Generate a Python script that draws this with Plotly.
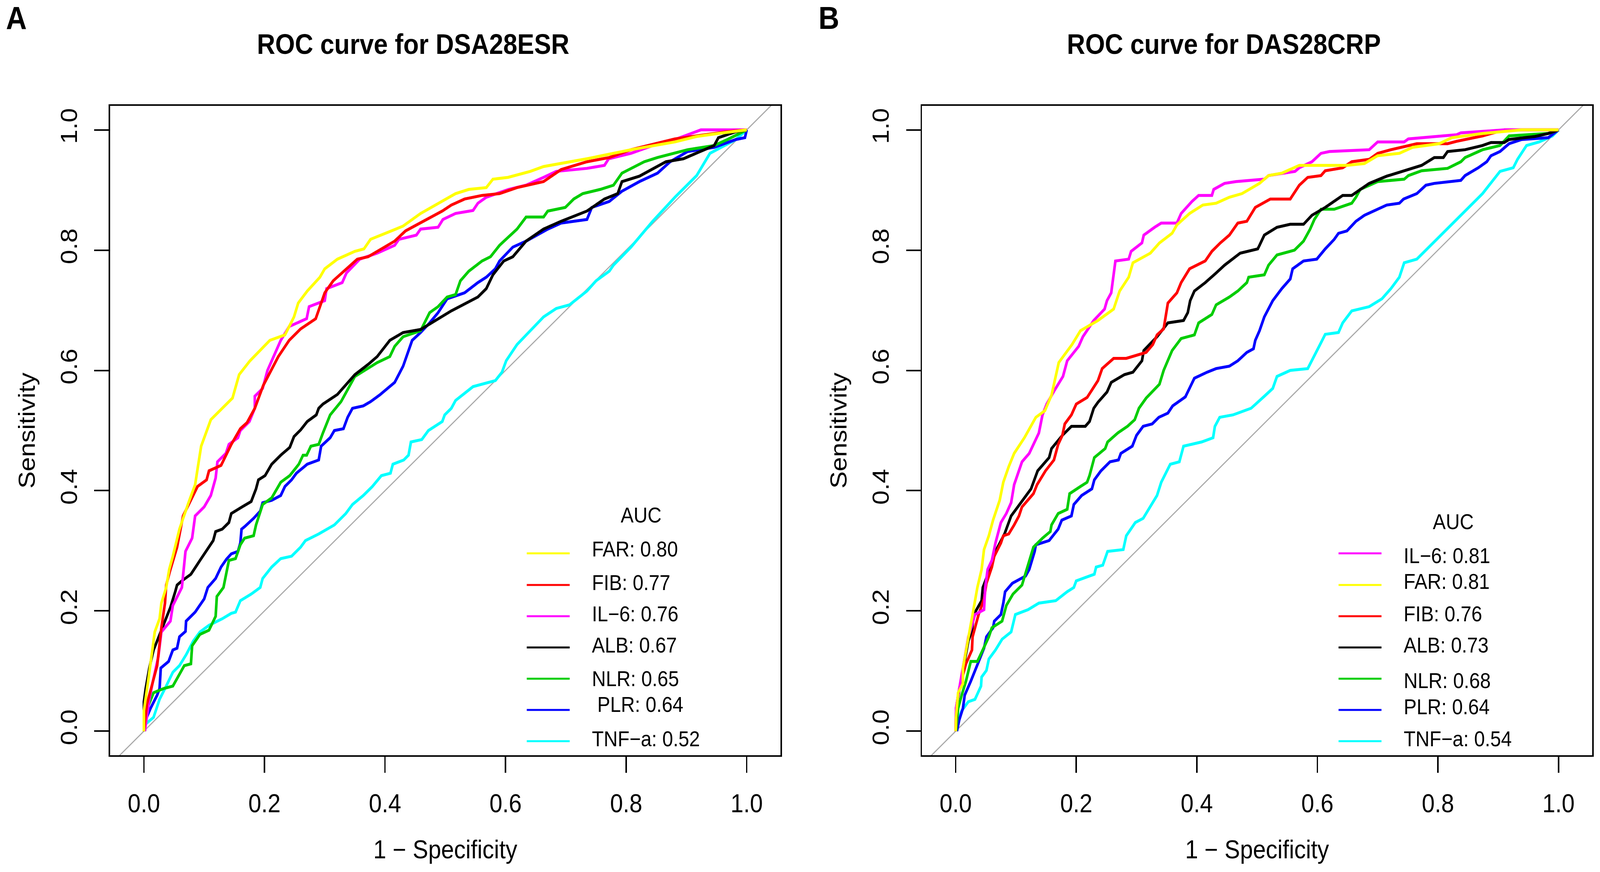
import plotly.graph_objects as go

W, H = 4547, 2233

# ---------------- data ----------------
tick_vals = [0.0, 0.2, 0.4, 0.6, 0.8, 1.0]
tick_text = ["0.0", "0.2", "0.4", "0.6", "0.8", "1.0"]
chance_line = [-0.2, 1.2]

A_title = "ROC curve for DSA28ESR"
B_title = "ROC curve for DAS28CRP"

A_markers = ["FAR", "FIB", "IL−6", "ALB", "NLR", "PLR", "TNF−a"]
A_auc = [0.80, 0.77, 0.76, 0.67, 0.65, 0.64, 0.52]
A_legend_text = ["FAR: 0.80", "FIB: 0.77", "IL−6: 0.76", "ALB: 0.67", "NLR: 0.65", " PLR: 0.64", "TNF−a: 0.52"]
B_markers = ["IL−6", "FAR", "FIB", "ALB", "NLR", "PLR", "TNF−a"]
B_auc = [0.81, 0.81, 0.76, 0.73, 0.68, 0.64, 0.54]
B_legend_text = ["IL−6: 0.81", "FAR: 0.81", "FIB: 0.76", "ALB: 0.73", "NLR: 0.68", "PLR: 0.64", "TNF−a: 0.54"]

# ---- Panel A (DAS28-ESR) ROC curves: 1-specificity / sensitivity ----
A_FAR_fpr = [0, 0, 0.007, 0.018, 0.026, 0.029, 0.037, 0.042, 0.048, 0.059, 0.074, 0.085, 0.089, 0.095, 0.111,
             0.147, 0.158, 0.176, 0.209, 0.234, 0.249, 0.256, 0.271, 0.292, 0.300, 0.321, 0.350, 0.365, 0.376,
             0.401, 0.430, 0.459, 0.488, 0.517, 0.539, 0.568, 0.579, 0.604, 0.641, 0.663, 0.735, 0.808, 0.881,
             0.917, 0.953, 1.0]
A_FAR_tpr = [0, 0.034, 0.083, 0.165, 0.187, 0.213, 0.239, 0.269, 0.291, 0.336, 0.380, 0.410, 0.436, 0.474, 0.518,
             0.554, 0.593, 0.616, 0.650, 0.659, 0.689, 0.712, 0.732, 0.755, 0.769, 0.785, 0.798, 0.802, 0.818,
             0.828, 0.840, 0.861, 0.878, 0.894, 0.901, 0.904, 0.918, 0.921, 0.931, 0.939, 0.952, 0.967, 0.980,
             0.989, 0.994, 1.0]

A_FIB_fpr = [0, 0.005, 0.022, 0.029, 0.035, 0.037, 0.044, 0.055, 0.065, 0.076, 0.089, 0.104, 0.108, 0.128, 0.145,
             0.160, 0.171, 0.184, 0.198, 0.223, 0.241, 0.260, 0.285, 0.292, 0.300, 0.314, 0.329, 0.354, 0.372,
             0.394, 0.416, 0.434, 0.459, 0.495, 0.510, 0.532, 0.561, 0.590, 0.619, 0.663, 0.692, 0.735, 0.772,
             0.808, 0.844, 0.881, 0.917, 0.968, 1.0]
A_FIB_tpr = [0, 0.045, 0.109, 0.172, 0.213, 0.243, 0.269, 0.306, 0.358, 0.380, 0.407, 0.418, 0.433, 0.442, 0.477,
             0.503, 0.513, 0.537, 0.575, 0.623, 0.650, 0.669, 0.686, 0.706, 0.729, 0.749, 0.762, 0.785, 0.789,
             0.802, 0.815, 0.832, 0.845, 0.865, 0.875, 0.885, 0.891, 0.894, 0.904, 0.914, 0.934, 0.947, 0.954,
             0.967, 0.976, 0.985, 0.990, 0.997, 1.0]

A_IL6_fpr = [0.0015, 0.009, 0.015, 0.024, 0.029, 0.044, 0.048, 0.063, 0.069, 0.080, 0.085, 0.100, 0.111, 0.119,
             0.122, 0.136, 0.141, 0.156, 0.160, 0.175, 0.184, 0.184, 0.197, 0.205, 0.227, 0.241, 0.270, 0.274,
             0.300, 0.303, 0.329, 0.336, 0.358, 0.387, 0.416, 0.423, 0.452, 0.459, 0.488, 0.496, 0.517, 0.546,
             0.554, 0.568, 0.605, 0.634, 0.663, 0.684, 0.735, 0.764, 0.771, 0.808, 0.844, 0.881, 0.924, 1.0]
A_IL6_tpr = [0, 0.053, 0.083, 0.124, 0.165, 0.183, 0.209, 0.239, 0.299, 0.321, 0.358, 0.373, 0.392, 0.421,
             0.448, 0.462, 0.477, 0.488, 0.500, 0.515, 0.537, 0.557, 0.570, 0.600, 0.650, 0.673, 0.686, 0.706,
             0.716, 0.736, 0.746, 0.762, 0.785, 0.795, 0.808, 0.818, 0.825, 0.835, 0.838, 0.851, 0.861, 0.866,
             0.878, 0.888, 0.901, 0.908, 0.921, 0.931, 0.936, 0.941, 0.952, 0.961, 0.974, 0.984, 1.0, 1.0]

A_ALB_fpr = [0, 0, 0.003, 0.009, 0.016, 0.031, 0.044, 0.052, 0.055, 0.063, 0.078, 0.093, 0.108, 0.115, 0.119,
             0.130, 0.141, 0.145, 0.163, 0.178, 0.186, 0.190, 0.201, 0.212, 0.227, 0.242, 0.249, 0.260, 0.271,
             0.286, 0.290, 0.297, 0.321, 0.332, 0.350, 0.372, 0.387, 0.408, 0.430, 0.459, 0.488, 0.510, 0.554,
             0.568, 0.579, 0.597, 0.612, 0.634, 0.663, 0.692, 0.735, 0.764, 0.786, 0.793, 0.822, 0.866, 0.895,
             0.924, 0.946, 0.953, 0.982, 1.0]
A_ALB_tpr = [0, 0.049, 0.071, 0.105, 0.135, 0.172, 0.206, 0.232, 0.243, 0.250, 0.261, 0.284, 0.306, 0.317, 0.332,
             0.336, 0.347, 0.362, 0.373, 0.382, 0.403, 0.418, 0.425, 0.444, 0.459, 0.472, 0.490, 0.501, 0.515,
             0.526, 0.537, 0.544, 0.560, 0.573, 0.593, 0.610, 0.623, 0.650, 0.663, 0.668, 0.686, 0.699, 0.722,
             0.736, 0.759, 0.782, 0.789, 0.815, 0.835, 0.848, 0.865, 0.885, 0.894, 0.914, 0.923, 0.947, 0.952,
             0.964, 0.974, 0.987, 0.997, 1.0]

A_NLR_fpr = [0.0015, 0.003, 0.016, 0.033, 0.048, 0.059, 0.067, 0.078, 0.080, 0.093, 0.108, 0.119, 0.121, 0.132,
             0.141, 0.152, 0.160, 0.167, 0.182, 0.186, 0.197, 0.212, 0.227, 0.242, 0.257, 0.264, 0.270, 0.277,
             0.290, 0.297, 0.309, 0.327, 0.350, 0.387, 0.408, 0.416, 0.430, 0.459, 0.474, 0.488, 0.503, 0.517,
             0.525, 0.539, 0.561, 0.575, 0.590, 0.605, 0.619, 0.634, 0.663, 0.670, 0.699, 0.713, 0.728, 0.757,
             0.779, 0.793, 0.830, 0.852, 0.902, 0.946, 0.968, 1.0]
A_NLR_tpr = [0, 0.031, 0.064, 0.071, 0.075, 0.094, 0.109, 0.112, 0.142, 0.161, 0.168, 0.191, 0.224, 0.239,
             0.284, 0.287, 0.310, 0.321, 0.325, 0.343, 0.377, 0.388, 0.414, 0.425, 0.444, 0.459, 0.459, 0.474,
             0.477, 0.496, 0.526, 0.548, 0.590, 0.613, 0.623, 0.640, 0.656, 0.666, 0.696, 0.706, 0.722, 0.726,
             0.749, 0.765, 0.782, 0.789, 0.808, 0.822, 0.835, 0.855, 0.855, 0.865, 0.871, 0.885, 0.894, 0.901,
             0.908, 0.928, 0.947, 0.954, 0.967, 0.974, 0.984, 1.0]

A_PLR_fpr = [0.0015, 0.003, 0.011, 0.022, 0.026, 0.028, 0.041, 0.048, 0.055, 0.059, 0.069, 0.070, 0.085, 0.100,
             0.106, 0.119, 0.128, 0.137, 0.145, 0.156, 0.160, 0.162, 0.167, 0.182, 0.193, 0.197, 0.212, 0.227,
             0.234, 0.245, 0.253, 0.271, 0.290, 0.294, 0.309, 0.316, 0.331, 0.338, 0.346, 0.364, 0.376, 0.391,
             0.416, 0.430, 0.445, 0.459, 0.474, 0.488, 0.503, 0.532, 0.554, 0.568, 0.583, 0.590, 0.612, 0.634,
             0.670, 0.692, 0.735, 0.743, 0.772, 0.793, 0.822, 0.852, 0.873, 0.902, 0.946, 0.982, 0.997, 1.0]
A_PLR_tpr = [0, 0.019, 0.038, 0.060, 0.071, 0.105, 0.116, 0.135, 0.138, 0.157, 0.166, 0.183, 0.198, 0.220,
             0.239, 0.254, 0.273, 0.286, 0.295, 0.299, 0.313, 0.336, 0.340, 0.354, 0.366, 0.380, 0.384, 0.392,
             0.407, 0.418, 0.429, 0.444, 0.451, 0.474, 0.488, 0.500, 0.503, 0.522, 0.537, 0.541, 0.548, 0.559,
             0.580, 0.607, 0.650, 0.663, 0.679, 0.696, 0.719, 0.729, 0.746, 0.755, 0.769, 0.782, 0.805, 0.815,
             0.835, 0.845, 0.851, 0.871, 0.881, 0.898, 0.914, 0.928, 0.947, 0.964, 0.971, 0.984, 0.987, 1.0]

A_TNF_fpr = [0.0015, 0.003, 0.016, 0.026, 0.037, 0.048, 0.059, 0.070, 0.082, 0.093, 0.108, 0.130, 0.145, 0.152,
             0.160, 0.178, 0.193, 0.197, 0.212, 0.227, 0.245, 0.260, 0.268, 0.290, 0.316, 0.335, 0.346, 0.364,
             0.379, 0.394, 0.409, 0.413, 0.431, 0.439, 0.443, 0.461, 0.472, 0.495, 0.499, 0.510, 0.517, 0.546,
             0.583, 0.594, 0.601, 0.619, 0.641, 0.663, 0.684, 0.706, 0.735, 0.750, 0.772, 0.779, 0.808, 0.844,
             0.881, 0.917, 0.939, 0.982, 1.0]
A_TNF_tpr = [0, 0.012, 0.023, 0.053, 0.075, 0.098, 0.109, 0.127, 0.150, 0.165, 0.176, 0.187, 0.196, 0.198,
             0.217, 0.228, 0.239, 0.254, 0.273, 0.287, 0.291, 0.306, 0.317, 0.328, 0.343, 0.362, 0.377, 0.392,
             0.407, 0.425, 0.429, 0.444, 0.451, 0.459, 0.481, 0.485, 0.500, 0.515, 0.526, 0.537, 0.550, 0.573,
             0.583, 0.597, 0.616, 0.643, 0.666, 0.689, 0.703, 0.709, 0.732, 0.749, 0.765, 0.775, 0.805, 0.848,
             0.888, 0.924, 0.961, 0.984, 1.0]

# ---- Panel B (DAS28-CRP) ROC curves ----
B_IL6_fpr = [0, 0.0006, 0.008, 0.015, 0.021, 0.027, 0.032, 0.047, 0.049, 0.053, 0.060, 0.066, 0.075, 0.084, 0.092,
             0.097, 0.103, 0.110, 0.122, 0.129, 0.138, 0.144, 0.151, 0.164, 0.178, 0.185, 0.204, 0.211, 0.229,
             0.247, 0.251, 0.258, 0.262, 0.265, 0.287, 0.291, 0.309, 0.312, 0.330, 0.341, 0.367, 0.374, 0.392,
             0.403, 0.425, 0.428, 0.446, 0.465, 0.512, 0.519, 0.563, 0.570, 0.591, 0.606, 0.620, 0.686, 0.700,
             0.744, 0.751, 0.831, 0.838, 0.910, 1.0]
B_IL6_tpr = [0, 0.038, 0.083, 0.120, 0.157, 0.176, 0.194, 0.202, 0.239, 0.269, 0.284, 0.313, 0.347, 0.362, 0.380,
             0.410, 0.429, 0.448, 0.462, 0.477, 0.496, 0.526, 0.544, 0.567, 0.590, 0.616, 0.640, 0.656, 0.683,
             0.702, 0.716, 0.729, 0.759, 0.782, 0.785, 0.798, 0.812, 0.825, 0.838, 0.845, 0.845, 0.861, 0.881,
             0.891, 0.891, 0.901, 0.911, 0.914, 0.918, 0.924, 0.931, 0.937, 0.947, 0.961, 0.964, 0.967, 0.980,
             0.980, 0.985, 0.992, 0.995, 1.0, 1.0]

B_FAR_fpr = [0, 0.0006, 0.004, 0.012, 0.012, 0.019, 0.023, 0.028, 0.036, 0.043, 0.047, 0.055, 0.062, 0.073, 0.079,
             0.088, 0.097, 0.114, 0.133, 0.148, 0.159, 0.171, 0.193, 0.207, 0.236, 0.262, 0.272, 0.287, 0.294,
             0.323, 0.338, 0.359, 0.367, 0.388, 0.410, 0.432, 0.454, 0.475, 0.504, 0.519, 0.541, 0.570, 0.649,
             0.678, 0.700, 0.736, 0.758, 0.802, 0.823, 0.874, 0.939, 1.0]
B_FAR_tpr = [0, 0.023, 0.064, 0.079, 0.105, 0.142, 0.165, 0.194, 0.239, 0.269, 0.302, 0.325, 0.351, 0.384, 0.414,
             0.440, 0.462, 0.488, 0.522, 0.533, 0.559, 0.613, 0.643, 0.666, 0.683, 0.702, 0.732, 0.755, 0.779,
             0.795, 0.812, 0.828, 0.842, 0.861, 0.875, 0.878, 0.888, 0.894, 0.911, 0.924, 0.928, 0.941, 0.941,
             0.944, 0.957, 0.961, 0.971, 0.977, 0.987, 0.994, 1.0, 1.0]

B_FIB_fpr = [0, 0.0006, 0.006, 0.017, 0.027, 0.028, 0.038, 0.047, 0.051, 0.060, 0.064, 0.075, 0.079, 0.088, 0.097,
             0.105, 0.110, 0.120, 0.129, 0.135, 0.149, 0.163, 0.170, 0.177, 0.181, 0.192, 0.200, 0.218, 0.236,
             0.243, 0.262, 0.283, 0.316, 0.327, 0.334, 0.345, 0.352, 0.367, 0.374, 0.388, 0.414, 0.425, 0.439,
             0.454, 0.468, 0.483, 0.497, 0.522, 0.555, 0.570, 0.584, 0.606, 0.613, 0.642, 0.657, 0.686, 0.700,
             0.722, 0.765, 0.816, 0.831, 0.874, 0.910, 1.0]
B_FIB_tpr = [0, 0.038, 0.071, 0.112, 0.135, 0.157, 0.194, 0.220, 0.246, 0.273, 0.291, 0.313, 0.325, 0.328, 0.343,
             0.358, 0.373, 0.384, 0.395, 0.410, 0.433, 0.451, 0.477, 0.492, 0.511, 0.526, 0.544, 0.555, 0.583,
             0.603, 0.620, 0.620, 0.630, 0.643, 0.659, 0.669, 0.712, 0.729, 0.746, 0.769, 0.782, 0.798, 0.812,
             0.825, 0.845, 0.848, 0.871, 0.885, 0.885, 0.908, 0.921, 0.924, 0.932, 0.937, 0.947, 0.951, 0.961,
             0.967, 0.977, 0.977, 0.981, 0.990, 1.0, 1.0]

B_ALB_fpr = [0, 0.002, 0.008, 0.015, 0.021, 0.027, 0.030, 0.043, 0.045, 0.058, 0.066, 0.081, 0.092, 0.103, 0.114,
             0.125, 0.136, 0.155, 0.159, 0.177, 0.192, 0.215, 0.222, 0.229, 0.236, 0.251, 0.258, 0.280, 0.294,
             0.309, 0.312, 0.334, 0.352, 0.378, 0.385, 0.389, 0.396, 0.414, 0.432, 0.446, 0.472, 0.501, 0.504,
             0.512, 0.533, 0.555, 0.577, 0.591, 0.613, 0.642, 0.657, 0.686, 0.715, 0.744, 0.773, 0.794, 0.809,
             0.816, 0.845, 0.874, 0.888, 0.910, 0.918, 0.961, 0.983, 1.0]
B_ALB_tpr = [0, 0.045, 0.079, 0.120, 0.150, 0.168, 0.194, 0.217, 0.239, 0.273, 0.299, 0.328, 0.358, 0.373, 0.388,
             0.403, 0.433, 0.455, 0.470, 0.492, 0.507, 0.507, 0.515, 0.537, 0.547, 0.564, 0.580, 0.593, 0.597,
             0.616, 0.633, 0.656, 0.679, 0.683, 0.696, 0.716, 0.732, 0.746, 0.762, 0.775, 0.795, 0.802, 0.808,
             0.825, 0.838, 0.843, 0.843, 0.858, 0.871, 0.891, 0.891, 0.911, 0.923, 0.932, 0.941, 0.954, 0.954,
             0.964, 0.967, 0.974, 0.979, 0.979, 0.984, 0.989, 0.994, 1.0]

B_NLR_fpr = [0.0006, 0.004, 0.010, 0.017, 0.025, 0.036, 0.043, 0.055, 0.060, 0.077, 0.084, 0.095, 0.110, 0.118,
             0.129, 0.144, 0.157, 0.159, 0.170, 0.185, 0.189, 0.207, 0.218, 0.222, 0.230, 0.248, 0.252, 0.269,
             0.285, 0.297, 0.304, 0.316, 0.338, 0.345, 0.359, 0.374, 0.396, 0.403, 0.425, 0.432, 0.454, 0.468,
             0.483, 0.486, 0.512, 0.519, 0.533, 0.562, 0.577, 0.588, 0.595, 0.606, 0.628, 0.657, 0.664, 0.671,
             0.700, 0.744, 0.751, 0.773, 0.816, 0.838, 0.845, 0.874, 0.903, 0.918, 0.983, 1.0]
B_NLR_tpr = [0, 0.038, 0.060, 0.083, 0.116, 0.116, 0.131, 0.157, 0.172, 0.183, 0.209, 0.228, 0.243, 0.269,
             0.306, 0.321, 0.332, 0.343, 0.362, 0.369, 0.395, 0.407, 0.414, 0.425, 0.455, 0.470, 0.481, 0.496,
             0.507, 0.518, 0.537, 0.554, 0.577, 0.600, 0.633, 0.653, 0.659, 0.679, 0.693, 0.709, 0.722, 0.732,
             0.746, 0.755, 0.759, 0.775, 0.792, 0.800, 0.815, 0.835, 0.851, 0.868, 0.868, 0.878, 0.888, 0.901,
             0.914, 0.918, 0.924, 0.932, 0.936, 0.947, 0.954, 0.967, 0.974, 0.990, 0.994, 1.0]

B_PLR_fpr = [0.002, 0.006, 0.012, 0.015, 0.025, 0.032, 0.040, 0.047, 0.051, 0.062, 0.064, 0.075, 0.079, 0.082,
             0.094, 0.116, 0.122, 0.131, 0.133, 0.155, 0.170, 0.176, 0.192, 0.196, 0.209, 0.226, 0.230, 0.241,
             0.256, 0.270, 0.274, 0.293, 0.300, 0.311, 0.326, 0.337, 0.352, 0.360, 0.381, 0.396, 0.417, 0.432,
             0.454, 0.468, 0.483, 0.494, 0.497, 0.504, 0.512, 0.526, 0.541, 0.555, 0.559, 0.577, 0.599, 0.613,
             0.628, 0.635, 0.649, 0.664, 0.678, 0.700, 0.715, 0.736, 0.743, 0.765, 0.780, 0.794, 0.838, 0.845,
             0.867, 0.881, 0.888, 0.903, 0.918, 0.939, 0.983, 1.0]
B_PLR_tpr = [0, 0.019, 0.038, 0.060, 0.083, 0.101, 0.120, 0.138, 0.157, 0.172, 0.183, 0.194, 0.213, 0.232,
             0.246, 0.258, 0.269, 0.299, 0.310, 0.317, 0.336, 0.351, 0.358, 0.377, 0.392, 0.403, 0.418, 0.433,
             0.448, 0.451, 0.462, 0.474, 0.492, 0.507, 0.511, 0.522, 0.529, 0.541, 0.556, 0.587, 0.597, 0.603,
             0.607, 0.616, 0.630, 0.636, 0.650, 0.666, 0.689, 0.716, 0.736, 0.752, 0.769, 0.782, 0.785, 0.802,
             0.818, 0.828, 0.832, 0.848, 0.858, 0.868, 0.875, 0.878, 0.885, 0.894, 0.908, 0.911, 0.916, 0.924,
             0.937, 0.947, 0.957, 0.964, 0.977, 0.984, 0.987, 1.0]

B_TNF_fpr = [0.002, 0.004, 0.010, 0.021, 0.032, 0.042, 0.043, 0.051, 0.055, 0.066, 0.077, 0.092, 0.099, 0.120,
             0.138, 0.166, 0.185, 0.196, 0.200, 0.230, 0.233, 0.244, 0.252, 0.278, 0.283, 0.298, 0.311, 0.323,
             0.334, 0.341, 0.356, 0.371, 0.378, 0.408, 0.427, 0.430, 0.438, 0.460, 0.490, 0.512, 0.526, 0.533,
             0.555, 0.584, 0.591, 0.606, 0.613, 0.635, 0.642, 0.657, 0.686, 0.707, 0.722, 0.736, 0.744, 0.765,
             0.802, 0.838, 0.874, 0.903, 0.925, 0.932, 0.947, 0.968, 0.990, 1.0]
B_TNF_tpr = [0, 0.019, 0.034, 0.049, 0.053, 0.075, 0.090, 0.101, 0.120, 0.135, 0.153, 0.165, 0.194, 0.202,
             0.213, 0.217, 0.232, 0.239, 0.250, 0.261, 0.273, 0.276, 0.299, 0.302, 0.325, 0.347, 0.354, 0.373,
             0.392, 0.414, 0.444, 0.448, 0.474, 0.481, 0.488, 0.507, 0.522, 0.526, 0.537, 0.557, 0.570, 0.590,
             0.600, 0.603, 0.616, 0.646, 0.660, 0.663, 0.679, 0.699, 0.706, 0.719, 0.736, 0.755, 0.779, 0.785,
             0.822, 0.858, 0.894, 0.931, 0.937, 0.951, 0.974, 0.980, 0.990, 1.0]

A_curves = {
    "FAR": (A_FAR_fpr, A_FAR_tpr), "FIB": (A_FIB_fpr, A_FIB_tpr), "IL−6": (A_IL6_fpr, A_IL6_tpr),
    "ALB": (A_ALB_fpr, A_ALB_tpr), "NLR": (A_NLR_fpr, A_NLR_tpr), "PLR": (A_PLR_fpr, A_PLR_tpr),
    "TNF−a": (A_TNF_fpr, A_TNF_tpr),
}
B_curves = {
    "IL−6": (B_IL6_fpr, B_IL6_tpr), "FAR": (B_FAR_fpr, B_FAR_tpr), "FIB": (B_FIB_fpr, B_FIB_tpr),
    "ALB": (B_ALB_fpr, B_ALB_tpr), "NLR": (B_NLR_fpr, B_NLR_tpr), "PLR": (B_PLR_fpr, B_PLR_tpr),
    "TNF−a": (B_TNF_fpr, B_TNF_tpr),
}

# ---------------- style ----------------
colors = {"FAR": "#FFFF00", "FIB": "#FF0000", "IL−6": "#FF00FF", "ALB": "#000000",
          "NLR": "#00CD00", "PLR": "#0000FF", "TNF−a": "#00FFFF"}
FONT = "Liberation Sans, Arial, Helvetica, sans-serif"
A_draw_order = ["TNF−a", "PLR", "NLR", "ALB", "IL−6", "FIB", "FAR"]
B_draw_order = ["TNF−a", "PLR", "NLR", "ALB", "FIB", "IL−6", "FAR"]


def px(X):
    return X / W


def py(Y):
    return 1 - Y / H


fig = go.Figure()

for xa, ya, curves, order in (("x", "y", A_curves, A_draw_order), ("x2", "y2", B_curves, B_draw_order)):
    fig.add_trace(go.Scatter(x=chance_line, y=chance_line, mode="lines", xaxis=xa, yaxis=ya,
                             line=dict(color="#A9A9A9", width=3), showlegend=False, hoverinfo="skip"))
    for name in order:
        fx, ty = curves[name]
        fig.add_trace(go.Scatter(x=fx, y=ty, mode="lines", xaxis=xa, yaxis=ya, name=name,
                                 line=dict(color=colors[name], width=7.5), showlegend=False))

axis_common = dict(
    showline=True, linewidth=4, linecolor="black", mirror=True,
    ticks="outside", ticklen=41, tickwidth=3.5, tickcolor="black",
    showgrid=False, zeroline=False, automargin=False,
    tickvals=tick_vals, ticktext=tick_text,
    tickfont=dict(family=FONT, size=66, color="black"),
)
x_range = [-0.056, 1.056]
y_range = [-0.04, 1.04]
ydom = [py(1934), py(271)]

fig.update_layout(
    width=W, height=H, autosize=False,
    margin=dict(l=0, r=0, t=0, b=0),
    paper_bgcolor="white", plot_bgcolor="white",
    font=dict(family=FONT, color="black"),
    xaxis=dict(axis_common, domain=[px(313), px(2218)], range=x_range, anchor="y",
               ticklabelstandoff=22,
               title=dict(text="1 − Specificity", font=dict(family=FONT, size=66), standoff=60)),
    yaxis=dict(axis_common, domain=ydom, range=y_range, anchor="x", tickangle=-90,
               ticklabelstandoff=23,
               title=dict(text="Sensitivity", font=dict(family=FONT, size=66), standoff=39)),
    xaxis2=dict(axis_common, domain=[px(2620), px(4525)], range=x_range, anchor="y2",
                ticklabelstandoff=22,
                title=dict(text="1 − Specificity", font=dict(family=FONT, size=66), standoff=60)),
    yaxis2=dict(axis_common, domain=ydom, range=y_range, anchor="x2", tickangle=-90,
                ticklabelstandoff=23,
                title=dict(text="Sensitivity", font=dict(family=FONT, size=66), standoff=39)),
)

annotations = []
shapes = []
# panel titles and letters
for title, tx in ((A_title, 1174), (B_title, 3478)):
    annotations.append(dict(text="<b>" + title + "</b>", x=px(tx), y=py(113), xref="paper", yref="paper",
                            xanchor="center", yanchor="middle", showarrow=False,
                            font=dict(family=FONT, size=72, color="black")))
for letter, lx in (("A", 46), ("B", 2355)):
    annotations.append(dict(text="<b>" + letter + "</b>", x=px(lx), y=py(46), xref="paper", yref="paper",
                            xanchor="center", yanchor="middle", showarrow=False,
                            font=dict(family=FONT, size=82, color="black")))

# legends
line_ys = [1417, 1498, 1578, 1658, 1738, 1818, 1898]
legends = [
    dict(markers=A_markers, texts=A_legend_text, title_xy=(1822, 1319), lx=(1497, 1619), tx=1680,
         text_ys=[1406, 1492, 1572, 1652, 1738, 1804, 1892]),
    dict(markers=B_markers, texts=B_legend_text, title_xy=(4130, 1336), lx=(3804, 3926), tx=3987,
         text_ys=[1423, 1489, 1572, 1652, 1743, 1810, 1892]),
]
for lg in legends:
    annotations.append(dict(text="AUC", x=px(lg["title_xy"][0]), y=py(lg["title_xy"][1]),
                            xref="paper", yref="paper", xanchor="center", yanchor="middle",
                            showarrow=False, font=dict(family=FONT, size=55, color="black")))
    for m, t, ly, ty in zip(lg["markers"], lg["texts"], line_ys, lg["text_ys"]):
        shapes.append(dict(type="line", xref="paper", yref="paper",
                           x0=px(lg["lx"][0]), x1=px(lg["lx"][1]), y0=py(ly), y1=py(ly),
                           line=dict(color=colors[m], width=5)))
        annotations.append(dict(text=t.replace(" ", "\u00a0", 1) if t.startswith(" ") else t,
                                x=px(lg["tx"]), y=py(ty), xref="paper", yref="paper",
                                xanchor="left", yanchor="middle", showarrow=False,
                                font=dict(family=FONT, size=55, color="black")))

fig.update_layout(annotations=annotations, shapes=shapes)

# fit the fixed 4547x2233 figure exactly into the browser viewport
fit_script = """
var gd = document.getElementById('{plot_id}');
var sx = window.innerWidth / %d;
var sy = window.innerHeight / %d;
if (!(sx > 0)) sx = 1;
if (!(sy > 0)) sy = sx;
document.documentElement.style.margin = '0';
document.documentElement.style.overflow = 'hidden';
document.body.style.margin = '0';
document.body.style.padding = '0';
document.body.style.overflow = 'hidden';
var wrap = gd.parentElement;
wrap.style.width = (%d * sx) + 'px';
wrap.style.height = (%d * sy) + 'px';
wrap.style.overflow = 'hidden';
gd.style.transformOrigin = '0 0';
gd.style.transform = 'scale(' + sx + ',' + sy + ')';
""" % (W, H, W, H)

fig.write_html("out.html", post_script=fit_script, config={"displayModeBar": False})
